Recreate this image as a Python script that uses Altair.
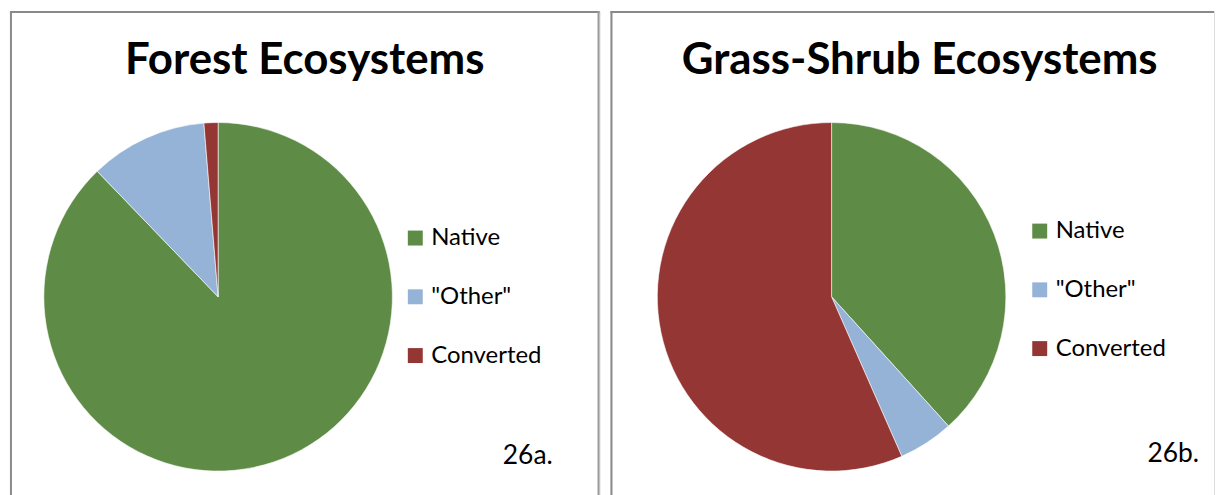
import altair as alt
import pandas as pd

categories = ["Native", "\"Other\"", "Converted"]
colors = ["#5E8B45", "#95B3D7", "#943634"]
forest_values = [87.8, 10.9, 1.3]
grass_values = [38.3, 5.1, 56.6]
titles = ["Forest Ecosystems", "Grass-Shrub Ecosystems"]
tags = ["26a.", "26b."]

FONT = "Lato"


def panel(values, title, tag, w, h, cx, cy, title_x, tag_x, tag_y, leg_x, leg_y, right_border):
    df = pd.DataFrame({"cat": categories, "value": values, "order": [0, 1, 2]})
    pie = alt.Chart(df).mark_arc(radius=175, stroke="white", strokeWidth=0.6).encode(
        theta=alt.Theta("value:Q", stack=True),
        order=alt.Order("order:Q"),
        color=alt.Color(
            "cat:N",
            scale=alt.Scale(domain=categories, range=colors),
            legend=alt.Legend(
                title=None, orient="none", legendX=leg_x, legendY=leg_y,
                symbolType="square", symbolSize=225, symbolStrokeWidth=0,
                labelFontSize=24, labelFont=FONT, labelColor="black",
                labelLimit=0, rowPadding=35, labelOffset=4,
            ),
        ),
        x=alt.value(cx),
        y=alt.value(cy),
    )
    tdf = pd.DataFrame({"t": [title]})
    ttl = alt.Chart(tdf).mark_text(
        font=FONT, fontSize=44, fontWeight="bold", color="black",
        align="center", baseline="alphabetic",
    ).encode(text="t:N", x=alt.value(title_x), y=alt.value(63))
    gdf = pd.DataFrame({"t": [tag]})
    tg = alt.Chart(gdf).mark_text(
        font=FONT, fontSize=26.5, color="black", align="right", baseline="alphabetic",
    ).encode(text="t:N", x=alt.value(tag_x), y=alt.value(tag_y))
    bdf = pd.DataFrame({"b": [0]})
    top = alt.Chart(bdf).mark_rule(color="#8a8a8a", strokeWidth=2).encode(
        x=alt.value(0), x2=alt.value(w), y=alt.value(1))
    left = alt.Chart(bdf).mark_rule(color="#8a8a8a", strokeWidth=2).encode(
        x=alt.value(1), y=alt.value(0), y2=alt.value(h))
    layers = [pie, ttl, tg, top, left]
    if right_border:
        right = alt.Chart(bdf).mark_rule(color="#9a9a9a", strokeWidth=2).encode(
            x=alt.value(w - 1), y=alt.value(0), y2=alt.value(h))
        layers.append(right)
    return alt.layer(*layers).properties(width=w, height=h)


left_panel = panel(forest_values, titles[0], tags[0], 592, 487, 209, 287, 296, 545, 455, 395, 216, True)
right_panel = panel(grass_values, titles[1], tags[1], 606, 487, 222, 287, 310.5, 591, 453, 419, 209, False)

chart = alt.hconcat(left_panel, right_panel, spacing=7).resolve_scale(color="independent").properties(
    padding={"left": 8, "top": 8, "right": 0, "bottom": 0}
).configure_view(stroke=None).configure(background="white")

chart.save("out.html", embed_options={"renderer": "svg", "actions": False})
